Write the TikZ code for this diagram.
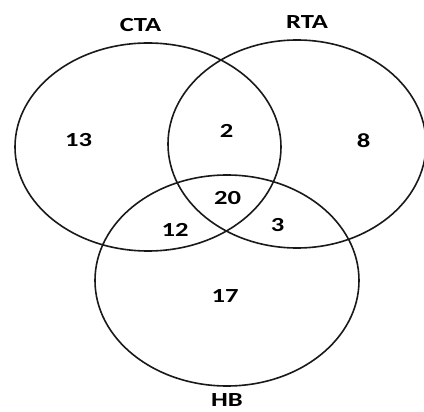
\documentclass[tikz,border=0pt]{standalone}
\usepackage{fontspec}
\usepackage{graphicx}
\setmainfont{Carlito}
\newcommand{\wide}[1]{\scalebox{1.33}[1]{#1}}
\tikzset{
  setline/.style={draw=black!90, line width=1.6pt},
  lbl/.style={inner sep=0pt, anchor=center, font=\fontsize{20}{22}\selectfont\bfseries, text=black}
}
\begin{document}
\begin{tikzpicture}[x=1pt, y=-1pt]
  \useasboundingbox (0,0) rectangle (424,412);
  % the three sets
  \draw[setline] (148,147) ellipse [x radius=133, y radius=104];
  \draw[setline] (297,144) ellipse [x radius=129, y radius=104];
  \draw[setline] (227,280.5) ellipse [x radius=132, y radius=105.5];
  % set names
  \node[lbl] (cta) at (140.5,25) {\wide{CTA}};
  \node[lbl] (rta) at (307,22) {\wide{RTA}};
  \node[lbl] (hb)  at (227,400) {\wide{HB}};
  % region counts
  \node[lbl] (n13) at (78.5,140) {\wide{13}};
  \node[lbl] (n2)  at (226.5,131) {\wide{2}};
  \node[lbl] (n8)  at (363.5,141) {\wide{8}};
  \node[lbl] (n20) at (227.5,198.5) {\wide{20}};
  \node[lbl] (n12) at (175,229.5) {\wide{12}};
  \node[lbl] (n3)  at (277.5,225.5) {\wide{3}};
  \node[lbl] (n17) at (225,296) {\wide{17}};
\end{tikzpicture}
\end{document}
